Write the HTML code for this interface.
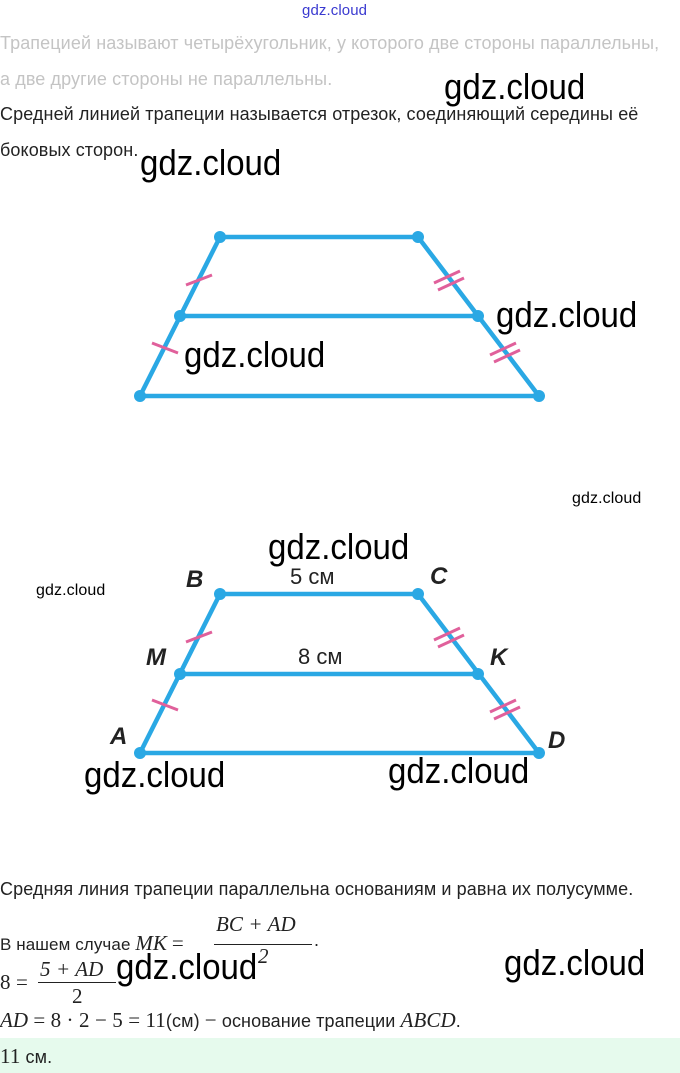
<!DOCTYPE html>
<html><head><meta charset="utf-8"><style>
body{margin:0;width:680px;height:1073px;background:#fff;position:relative;overflow:hidden;font-family:"Liberation Sans",sans-serif;}
.t{position:absolute;white-space:nowrap;font-size:18px;color:#222;letter-spacing:0.1px}
.g{color:#c4c4c4}
.w{position:absolute;font-family:"Liberation Sans",sans-serif;font-size:33px;color:#000;white-space:nowrap;transform:scaleY(1.1);transform-origin:left top}
.m{font-family:"Liberation Serif",serif;font-style:italic;font-size:21px}
</style></head><body>
<div class="t" style="left:302px;top:2px;color:#3a3ad0;font-size:15px">gdz.cloud</div>
<div class="t g" style="left:0;top:33px">Трапецией называют четырёхугольник, у которого две стороны параллельны,</div>
<div class="t g" style="left:0;top:69px">а две другие стороны не параллельны.</div>
<div class="w" style="left:444px;top:66px">gdz.cloud</div>
<div class="t" style="left:0;top:104px">Средней линией трапеции называется отрезок, соединяющий середины её</div>
<div class="t" style="left:0;top:140px">боковых сторон.</div>
<div class="w" style="left:140px;top:142px">gdz.cloud</div>

<svg width="680" height="1073" style="position:absolute;left:0;top:0" xmlns="http://www.w3.org/2000/svg">
<g stroke="#2aa8e4" stroke-width="4.5" fill="none">
<polygon points="220,237 418,237 539,396 140,396"/><line x1="180" y1="316" x2="478" y2="316"/>
<polygon points="220,594 418,594 539,753 140,753"/><line x1="180" y1="674" x2="478" y2="674"/>
</g>
<g fill="#2aa8e4">
<circle cx="220" cy="237" r="6"/><circle cx="418" cy="237" r="6"/><circle cx="180" cy="316" r="6"/><circle cx="478" cy="316" r="6"/><circle cx="140" cy="396" r="6"/><circle cx="539" cy="396" r="6"/>
<circle cx="220" cy="594" r="6"/><circle cx="418" cy="594" r="6"/><circle cx="180" cy="674" r="6"/><circle cx="478" cy="674" r="6"/><circle cx="140" cy="753" r="6"/><circle cx="539" cy="753" r="6"/>
</g>
<g stroke="#e0609b" stroke-width="3">
<line x1="186" y1="285" x2="212" y2="275"/><line x1="152" y1="343" x2="178" y2="353"/>
<line x1="434" y1="283" x2="460" y2="271"/><line x1="438" y1="290" x2="464" y2="278"/>
<line x1="490" y1="355" x2="516" y2="343"/><line x1="494" y1="362" x2="520" y2="350"/>
<line x1="186" y1="642" x2="212" y2="632"/><line x1="152" y1="700" x2="178" y2="710"/>
<line x1="434" y1="640" x2="460" y2="628"/><line x1="438" y1="647" x2="464" y2="635"/>
<line x1="490" y1="712" x2="516" y2="700"/><line x1="494" y1="719" x2="520" y2="707"/>
</g>
<g font-family="Liberation Sans,sans-serif" font-style="italic" font-weight="bold" font-size="24" fill="#222">
<text x="186" y="587">B</text><text x="430" y="584">C</text><text x="146" y="665">M</text><text x="490" y="665">K</text><text x="110" y="744">A</text><text x="548" y="748">D</text>
</g>
<g font-family="Liberation Sans,sans-serif" font-size="22" fill="#222"><text x="290" y="584">5 см</text><text x="298" y="664">8 см</text></g>
</svg>
<div class="w" style="left:496px;top:294px">gdz.cloud</div>
<div class="w" style="left:184px;top:334px">gdz.cloud</div>
<div class="t" style="left:572px;top:490px;color:#000;font-size:16px">gdz.cloud</div>
<div class="w" style="left:268px;top:526px">gdz.cloud</div>
<div class="t" style="left:36px;top:582px;color:#000;font-size:16px">gdz.cloud</div>
<div class="w" style="left:84px;top:754px">gdz.cloud</div>
<div class="w" style="left:388px;top:750px">gdz.cloud</div>

<div class="t" style="left:0;top:879px">Средняя линия трапеции параллельна основаниям и равна их полусумме.</div>
<div class="t" style="left:0;top:931px;font-size:17px">В нашем случае <span class="m">MK</span> <span class="m" style="font-style:normal">=</span></div>
<div class="t m" style="left:216px;top:912px">BC + AD</div>
<div style="position:absolute;left:214px;top:944px;width:98px;height:1px;background:#222"></div>
<div class="t m" style="left:258px;top:944px">2</div>
<div class="t" style="left:314px;top:930px">.</div>
<div class="t m" style="left:0;top:970px;font-style:normal">8 =</div>
<div class="t m" style="left:40px;top:957px">5 + AD</div>
<div style="position:absolute;left:38px;top:982px;width:78px;height:1px;background:#222"></div>
<div class="t m" style="left:72px;top:984px;font-style:normal">2</div>
<div class="w" style="left:116px;top:946px">gdz.cloud</div>
<div class="w" style="left:504px;top:942px">gdz.cloud</div>
<div class="t" style="left:0;top:1008px"><span class="m">AD</span> <span class="m" style="font-style:normal">= 8 · 2 − 5 = 11</span>(см) <span class="m" style="font-style:normal">−</span> основание трапеции <span class="m">ABCD</span>.</div>
<div style="position:absolute;left:0;top:1038px;width:680px;height:35px;background:#e6faed"></div>
<div class="t" style="left:0;top:1044px"><span class="m" style="font-style:normal">11</span> см.</div>
</body></html>
